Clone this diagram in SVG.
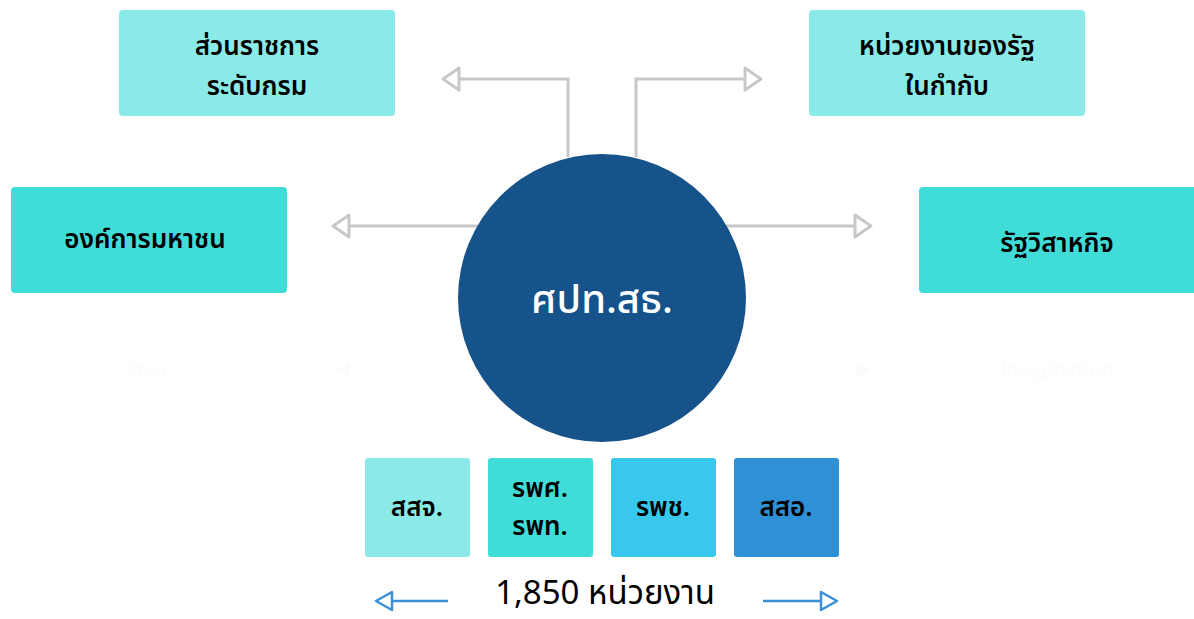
<svg xmlns="http://www.w3.org/2000/svg" width="1194" height="619" viewBox="0 0 1194 619">
<defs>
<style>
.lbl{font-family:"Noto Sans Thai","Noto Sans","Liberation Sans",sans-serif;font-weight:600;fill:#000;text-anchor:middle}
.box-light{fill:#8AEAE8}
.box-mid{fill:#40DCD8}
.conn{fill:none;stroke:#C8C8C8;stroke-width:3}
.head{fill:#fff;stroke:#C8C8C8;stroke-width:3;stroke-linejoin:round}
.blue{fill:none;stroke:#3A8FD5;stroke-width:2.5}
.bhead{fill:#fff;stroke:#3A8FD5;stroke-width:2.5;stroke-linejoin:round}
.faint{font-family:"Liberation Sans",sans-serif;font-size:20px;font-weight:700;fill:#FCFCFC;text-anchor:middle}
</style>
</defs>
<rect width="1194" height="619" fill="#fff"/>
<g id="connectors">
<path class="conn" d="M568 157 V79 H458"/>
<path class="head" d="M443 79 L459 68 L459 90 Z"/>
<path class="conn" d="M636 157 V79 H746"/>
<path class="head" d="M761 79 L745 68 L745 90 Z"/>
<path class="conn" d="M478 226 H349"/>
<path class="head" d="M333 226 L349 215 L349 237 Z"/>
<path class="conn" d="M726 226 H855"/>
<path class="head" d="M871 226 L855 215 L855 237 Z"/>
<path d="M335 370 L350 361 L350 379 Z" fill="#FCFCFC"/>
<path d="M870 370 L855 361 L855 379 Z" fill="#FCFCFC"/>
<path class="blue" d="M448 601 H391"/>
<path class="bhead" d="M376 601 L392 592 L392 610 Z"/>
<path class="blue" d="M763 601 H822"/>
<path class="bhead" d="M837 601 L821 592 L821 610 Z"/>
</g>
<g id="n-dept">
<rect class="box-light" x="119" y="10" width="276" height="106" rx="4"/>
<text class="lbl" x="257" y="55" font-size="26">ส่วนราชการ</text>
<text class="lbl" x="257" y="95" font-size="26">ระดับกรม</text>
</g>
<g id="n-stateagency">
<rect class="box-light" x="809" y="10" width="276" height="106" rx="4"/>
<text class="lbl" x="947" y="55" font-size="26">หน่วยงานของรัฐ</text>
<text class="lbl" x="947" y="95" font-size="26">ในกำกับ</text>
</g>
<g id="n-publicorg">
<rect class="box-mid" x="11" y="187" width="276" height="106" rx="4"/>
<text class="lbl" x="145" y="248" font-size="26">องค์การมหาชน</text>
</g>
<g id="n-stateenterprise">
<rect class="box-mid" x="919" y="187" width="280" height="106" rx="4"/>
<text class="lbl" x="1057" y="252" font-size="26">รัฐวิสาหกิจ</text>
</g>
<g id="n-idea"><text class="faint" x="146" y="377">Idea</text></g>
<g id="n-imagination"><text class="faint" x="1057" y="377">Imagination</text></g>
<g id="n-center">
<circle cx="602" cy="298" r="144" fill="#16538A"/>
<text class="lbl" x="602" y="313" font-size="40" style="fill:#fff;font-weight:500">ศปท.สธ.</text>
</g>
<g id="n-ssj">
<rect x="365" y="458" width="105" height="99" rx="3" fill="#8AEAE8"/>
<text class="lbl" x="417" y="516" font-size="26">สสจ.</text>
</g>
<g id="n-hosp">
<rect x="488" y="458" width="105" height="99" rx="3" fill="#40DCD8"/>
<text class="lbl" x="540" y="497" font-size="26">รพศ.</text>
<text class="lbl" x="540" y="535" font-size="26">รพท.</text>
</g>
<g id="n-community">
<rect x="611" y="458" width="105" height="99" rx="3" fill="#38C8EE"/>
<text class="lbl" x="663" y="516" font-size="26">รพช.</text>
</g>
<g id="n-sso">
<rect x="734" y="458" width="105" height="99" rx="3" fill="#2E90D5"/>
<text class="lbl" x="786" y="516" font-size="26">สสอ.</text>
</g>
<g id="n-total">
<text class="lbl" x="605" y="604" font-size="33" style="font-weight:400">1,850 หน่วยงาน</text>
</g>
</svg>
